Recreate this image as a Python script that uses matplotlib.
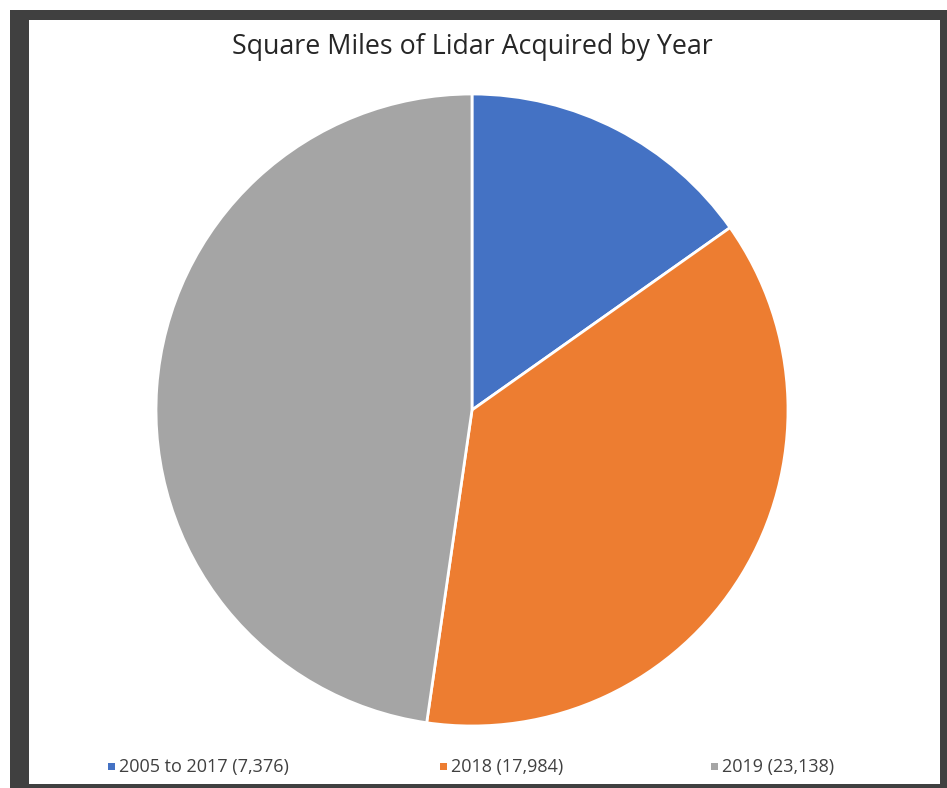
import matplotlib.pyplot as plt
from matplotlib.patches import Rectangle

# data
labels = ['2005 to 2017 (7,376)', '2018 (17,984)', '2019 (23,138)']
sq_miles = [7376, 17984, 23138]
colors = ['#4472C4', '#ED7D31', '#A5A5A5']

W, H = 947, 788
fig = plt.figure(figsize=(W / 100, H / 100), dpi=100)
fig.patch.set_facecolor('white')

# dark frame and white chart area (pixel coords -> figure fraction)
def px_rect(x0, y0, x1, y1, color, z):
    fig.patches.append(Rectangle((x0 / W, 1 - y1 / H), (x1 - x0) / W, (y1 - y0) / H,
                                 transform=fig.transFigure, facecolor=color,
                                 edgecolor='none', zorder=z))

px_rect(10, 10, W, H, '#404040', 0)
px_rect(29, 20, 940, 784, 'white', 1)

# pie axes
cx, cy, r = 472, 410, 316
ax = fig.add_axes([(cx - r) / W, 1 - (cy + r) / H, 2 * r / W, 2 * r / H])
ax.set_zorder(2)
ax.pie(sq_miles, colors=colors, startangle=90, counterclock=False,
       wedgeprops=dict(edgecolor='white', linewidth=2))
ax.set_xlim(-1, 1)
ax.set_ylim(-1, 1)
ax.axis('off')

fig.text(472 / W, 1 - 47 / H, 'Square Miles of Lidar Acquired by Year',
         ha='center', va='center', fontsize=19.3, family='Open Sans', color='#262626')

# legend entries
leg_x = [111, 443, 714]
for x, lab, c in zip(leg_x, labels, colors):
    fig.patches.append(Rectangle(((x - 3) / W, 1 - 770 / H), 7 / W, 7 / H,
                                 transform=fig.transFigure, facecolor=c,
                                 edgecolor='none', zorder=3))
    fig.text((x + 8) / W, 1 - 767 / H, lab, ha='left', va='center',
             fontsize=13, family='Open Sans', color='#404040')

fig.savefig('out.png', dpi=100)
